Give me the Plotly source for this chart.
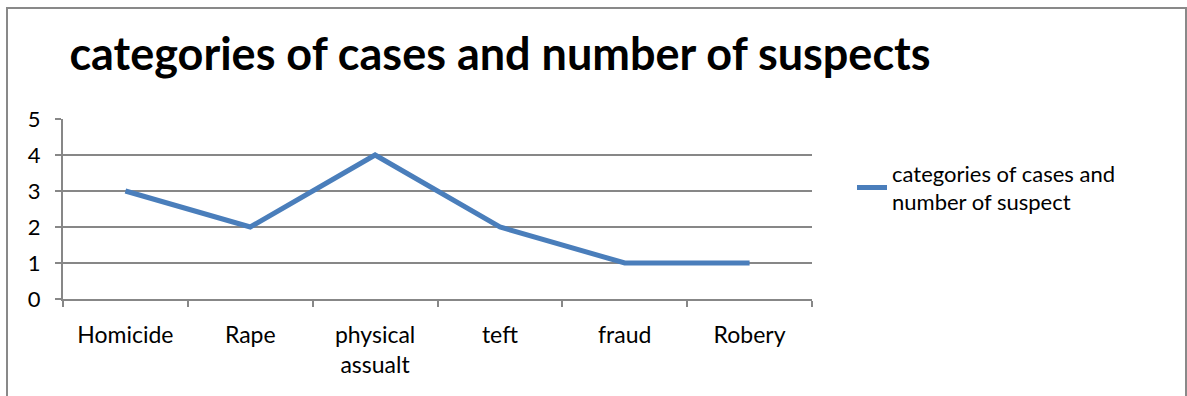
import plotly.graph_objects as go

categories = ["Homicide", "Rape", "physical<br>assualt", "teft", "fraud", "Robery"]
values = [3, 2, 4, 2, 1, 1]
series_name = "categories of cases and<br>number of suspect"
title_text = "categories of cases and number of suspects"

W, H = 1187, 396
L, R, T, B = 63, 375, 119, 97
pw = W - L - R
ph = H - T - B

def px_x(p):
    return (p - L) / pw

def px_y(p):
    return (H - B - p) / ph

fig = go.Figure()
fig.add_trace(go.Scatter(
    x=categories, y=values, mode="lines", name=series_name,
    line=dict(color="#4A7EBB", width=5),
))

font_family = "Lato, 'Open Sans', sans-serif"
fig.update_layout(
    width=W, height=H,
    margin=dict(l=L, r=R, t=T, b=B),
    paper_bgcolor="white", plot_bgcolor="white",
    font=dict(family=font_family, size=22, color="#000000"),
    title=dict(text="<b>" + title_text + "</b>", x=500 / W, xanchor="center",
               y=1 - 54 / H, yanchor="middle",
               font=dict(size=45, family=font_family, color="#000000")),
    showlegend=True,
    legend=dict(x=px_x(852), xanchor="left", y=px_y(188), yanchor="middle",
                font=dict(size=22), bgcolor="rgba(0,0,0,0)",
                itemwidth=30, tracegroupgap=0),
    xaxis=dict(
        type="category", range=[-0.5, 5.5], tickson="boundaries",
        ticks="outside", ticklen=6, ticklabelstandoff=14,
        tickcolor="#878787", tickwidth=2, showgrid=False,
        showline=True, linecolor="#878787", linewidth=2,
        tickfont=dict(size=23), fixedrange=True,
    ),
    yaxis=dict(
        range=[0, 5], tickvals=[0, 1, 2, 3, 4, 5], ticks="outside", ticklen=6,
        ticklabelstandoff=10,
        tickcolor="#878787", tickwidth=2, showgrid=True, gridcolor="#878787",
        gridwidth=2, showline=True, linecolor="#878787", linewidth=2,
        zeroline=False, tickfont=dict(size=22), fixedrange=True,
    ),
    shapes=[dict(type="rect", xref="paper", yref="paper",
                 x0=px_x(7), x1=px_x(1186), y0=px_y(400), y1=px_y(8),
                 line=dict(color="#898989", width=2), fillcolor="rgba(0,0,0,0)",
                 layer="below")],
)

fig.write_html("out.html")
